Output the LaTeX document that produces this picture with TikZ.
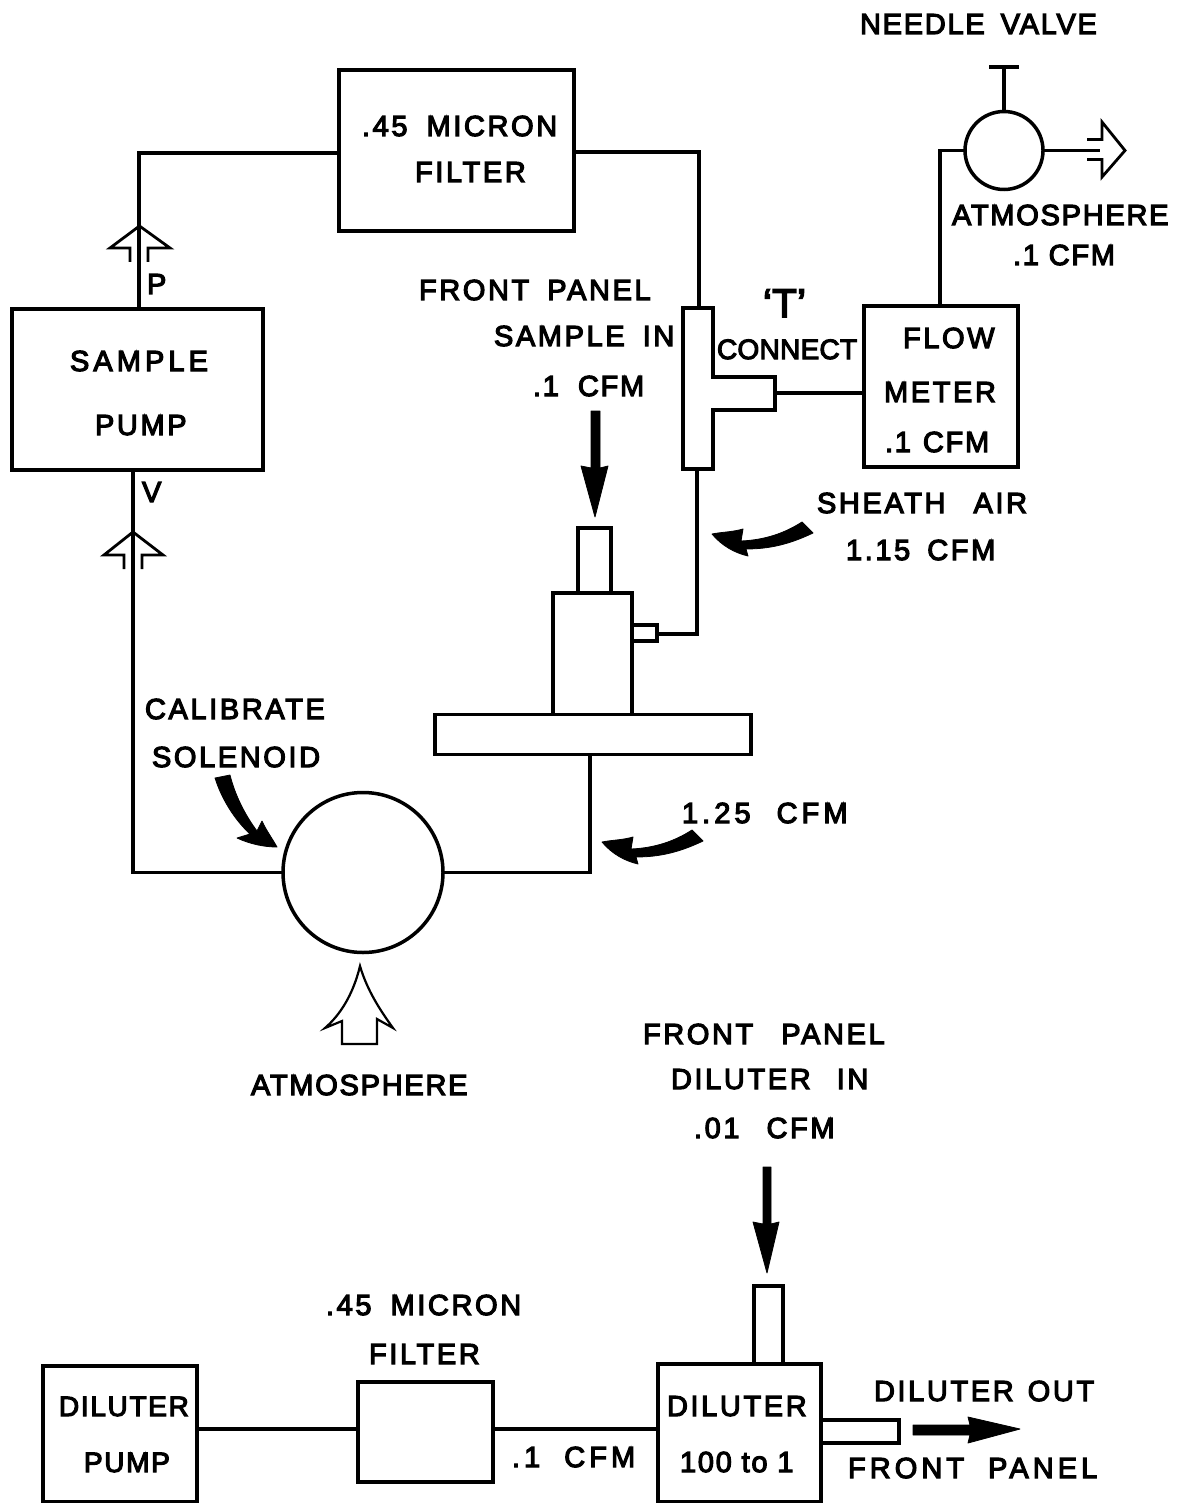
\documentclass[tikz,border=0pt]{standalone}
\usepackage{fontspec}
\setmainfont{Liberation Sans}
\newfontfamily\lab[LetterSpace=6,FakeBold=4]{Liberation Sans}
\newfontfamily\labw[LetterSpace=9,FakeBold=4]{Liberation Sans}
\newfontfamily\labx[LetterSpace=14,FakeBold=4]{Liberation Sans}
\newfontfamily\labn[LetterSpace=1,FakeBold=4]{Liberation Sans}
\newcommand{\gp}[1]{\hspace{#1pt}}
\tikzset{
  lbl/.style={anchor=base west,inner sep=0pt,outer sep=0pt,font=\fontsize{29}{32}\selectfont\lab},
  lblw/.style={lbl,font=\fontsize{29}{32}\selectfont\labw},
  lblx/.style={lbl,font=\fontsize{29}{32}\selectfont\labx},
  lbln/.style={lbl,font=\fontsize{28}{32}\selectfont\labn},
  lblm/.style={lbl,font=\fontsize{28}{32}\selectfont\lab},
  boxn/.style={draw=black,line width=3.2pt,fill=white,inner sep=0pt,outer sep=0pt,rectangle},
  valve/.style={draw=black,line width=3.5pt,fill=white,circle,inner sep=0pt,outer sep=0pt},
  pipe/.style={draw=black,line width=3.2pt,line join=miter},
  openarrow/.style={draw=black,line width=2.8pt,line join=miter,fill=none},
  solidarrow/.style={fill=black,draw=black,line width=.8pt,line join=round},
}
\begin{document}
\begin{tikzpicture}[x=1pt,y=-1pt]
\useasboundingbox (0,0) rectangle (1183,1503);
\fill[white] (0,0) rectangle (1183,1503);

% upper boxes
\node[boxn,minimum width=235pt,minimum height=161pt] (filt) at (456.5,150.5) {};
\node[boxn,minimum width=251pt,minimum height=161pt] (spump) at (137.5,389.5) {};
\node[boxn,minimum width=154pt,minimum height=161pt] (flow) at (941,386.5) {};
\node[valve,minimum size=78pt] (nv) at (1004,150.5) {};
\node[valve,minimum size=160pt] (sol) at (363,872.5) {};

% T connector
\coordinate (teetop) at (699,308);
\coordinate (teebot) at (697,469);
\coordinate (teearm) at (775,393);
\draw[boxn] (683,308) -- (713,308) -- (713,377) -- (775,377) -- (775,410) -- (713,410) -- (713,469) -- (683,469) -- cycle;

% sampler body
\node[boxn,minimum width=33pt,minimum height=65pt] (inlet) at (594.5,560.5) {};
\node[boxn,minimum width=79pt,minimum height=122pt] (body) at (592.5,654) {};
\node[boxn,minimum width=25pt,minimum height=16pt] (port) at (644.5,633) {};
\node[boxn,minimum width=316pt,minimum height=40pt] (plate) at (593,734.5) {};

% needle valve
\coordinate (nvtop) at (1004,67);
\coordinate (nvL) at (989,67);
\coordinate (nvR) at (1019,67);
\coordinate (nvout) at (1100,150.5);
\draw[pipe] (nv.north) -- (nvtop);
\draw[pipe] (nvL) -- (nvR);
\draw[pipe] (nv.east) -- (nvout);
\draw[openarrow] (1087,139.5) -- (1102,139.5) -- (1102,122) -- (1125,150.5) -- (1102,177) -- (1102,159.5) -- (1087,159.5);

% connectors
\draw[pipe] (filt.east |- 0,152) -| (teetop);
\draw[pipe] (spump.north -| 139,0) -- (139,153) -- (filt.west |- 0,153);
\draw[pipe] (teearm) -- (flow.west |- teearm);
\draw[pipe] (flow.north -| 940,0) -- (940,150.5) -- (nv.west);
\draw[pipe] (teebot) -- (697,634) -- (port.east |- 0,634);
\draw[pipe] (spump.south -| 133,0) -- (133,872.5) -- (sol.west);
\draw[pipe] (sol.east) -- (590,872.5) -- (plate.south -| 590,0);

% open arrows on pump lines
\draw[openarrow] (130,262) -- (130,248) -- (110,248) -- (139.5,226) -- (170,248) -- (148,248) -- (148,262);
\draw[openarrow] (124,569) -- (124,555) -- (104,555) -- (133,532) -- (163,555) -- (142,555) -- (142,569);

% big atmosphere arrow
\draw[openarrow,line width=2.2pt] (360,966) .. controls (353,995) and (340,1015) .. (325,1028) -- (342,1021) -- (342,1044) -- (377,1044) -- (377,1019) -- (393,1028) .. controls (380,1010) and (367,990) .. cycle;

% solid straight arrows
\path[solidarrow] (591,411) -- (600,411) -- (600,468) -- (608,466) -- (595,517) -- (581,466) -- (591,468) -- cycle;
\path[solidarrow] (763,1167) -- (771,1167) -- (771,1224) -- (779,1222) -- (767,1273) -- (753,1222) -- (763,1224) -- cycle;
\path[solidarrow] (913,1425) -- (970,1425) -- (968,1417) -- (1020,1429) -- (968,1443) -- (970,1435) -- (913,1435) -- cycle;

% curved solid arrows
\path[solidarrow] (712,534) .. controls (722,532) and (733,532) .. (743,529) -- (741,541) .. controls (765,540) and (785,533) .. (802,522) -- (813,533) .. controls (790,544) and (770,549) .. (746,549) -- (748,556) .. controls (735,553) and (722,546) .. cycle;
\begin{scope}[shift={(-110,308)}]
\path[solidarrow] (712,534) .. controls (722,532) and (733,532) .. (743,529) -- (741,541) .. controls (765,540) and (785,533) .. (802,522) -- (813,533) .. controls (790,544) and (770,549) .. (746,549) -- (748,556) .. controls (735,553) and (722,546) .. cycle;
\end{scope}
\path[solidarrow] (215,778) .. controls (222,800) and (235,820) .. (250,834) -- (237,838) .. controls (250,844) and (264,847) .. (277,847) .. controls (272,838) and (266,830) .. (262,821) -- (257,831) .. controls (245,815) and (235,795) .. (230,775) -- cycle;

% lower boxes
\node[boxn,minimum width=154pt,minimum height=136pt] (dpump) at (120,1434) {};
\node[boxn,minimum width=135pt,minimum height=100pt] (dfilt) at (425.5,1432) {};
\node[boxn,minimum width=163pt,minimum height=138pt] (dil) at (739.5,1433) {};
\node[boxn,minimum width=29pt,minimum height=78pt] (dilin) at (768.5,1325) {};
\node[boxn,minimum width=78pt,minimum height=23pt] (dilout) at (860,1431.5) {};
\draw[pipe] (dpump.east |- 0,1429) -- (dfilt.west |- 0,1429);
\draw[pipe] (dfilt.east |- 0,1429) -- (dil.west |- 0,1429);

% labels
\begin{scope}[shift={(0,-1)}]
\node[lbl] (t1) at (860,35) {NEEDLE\gp{16}VALVE};
\node[lblw] (t2) at (362,137) {.45\gp{19}MICRON};
\node[lblw] (t3) at (415,183) {FILTER};
\node[lblw] (t4) at (419,301) {FRONT\gp{18}PANEL};
\node[lblw] (t5) at (494,347) {SAMPLE\gp{18}IN};
\node[lbl] (t6) at (533,397) {.1\gp{19}CFM};
\node[lbln,font=\fontsize{40}{42}\selectfont\labn] (t7) at (763,318) {‘T’};
\node[lbln] (t8) at (717,360) {CONNECT};
\node[lblw] (t9) at (903,349) {FLOW};
\node[lblw] (t10) at (884,403) {METER};
\node[lbl] (t11) at (885,453) {.1\gp{12}CFM};
\node[lbl] (t12) at (952,226) {ATMOSPHERE};
\node[lbl] (t13) at (1013,266) {.1 CFM};
\node[lblx] (t14) at (70,372) {SAMPLE};
\node[lblw] (t15) at (95,436) {PUMP};
\node[lbl] (t16) at (147,295) {P};
\node[lbl] (t17) at (142,503) {V};
\node[lblw] (t18) at (817,514) {SHEATH\gp{28}AIR};
\node[lblw] (t19) at (846,561) {1.15\gp{17}CFM};
\node[lblw] (t20) at (145,720) {CALIBRATE};
\node[lblw] (t21) at (152,768) {SOLENOID};
\node[lblx] (t22) at (682,824) {1.25\gp{26}CFM};
\node[lbl] (t23) at (251,1096) {ATMOSPHERE};
\node[lblw] (t24) at (643,1045) {FRONT\gp{28}PANEL};
\node[lblw] (t25) at (671,1090) {DILUTER\gp{26}IN};
\node[lblw] (t26) at (694,1139) {.01\gp{27}CFM};
\node[lblw] (t27) at (326,1316) {.45\gp{19}MICRON};
\node[lblw] (t28) at (369,1365) {FILTER};
\node[lblm] (t29) at (59,1417) {DILUTER};
\node[lblm] (t30) at (84,1473) {PUMP};
\node[lblx] (t31) at (512,1468) {.1\gp{24}CFM};
\node[lblw] (t32) at (667,1417) {DILUTER};
\node[lbl] (t33) at (680,1473) {100 to 1};
\node[lblw] (t34) at (874,1402) {DILUTER\gp{14}OUT};
\node[lblx] (t35) at (848,1479) {FRONT\gp{24}PANEL};
\end{scope}
\end{tikzpicture}
\end{document}
